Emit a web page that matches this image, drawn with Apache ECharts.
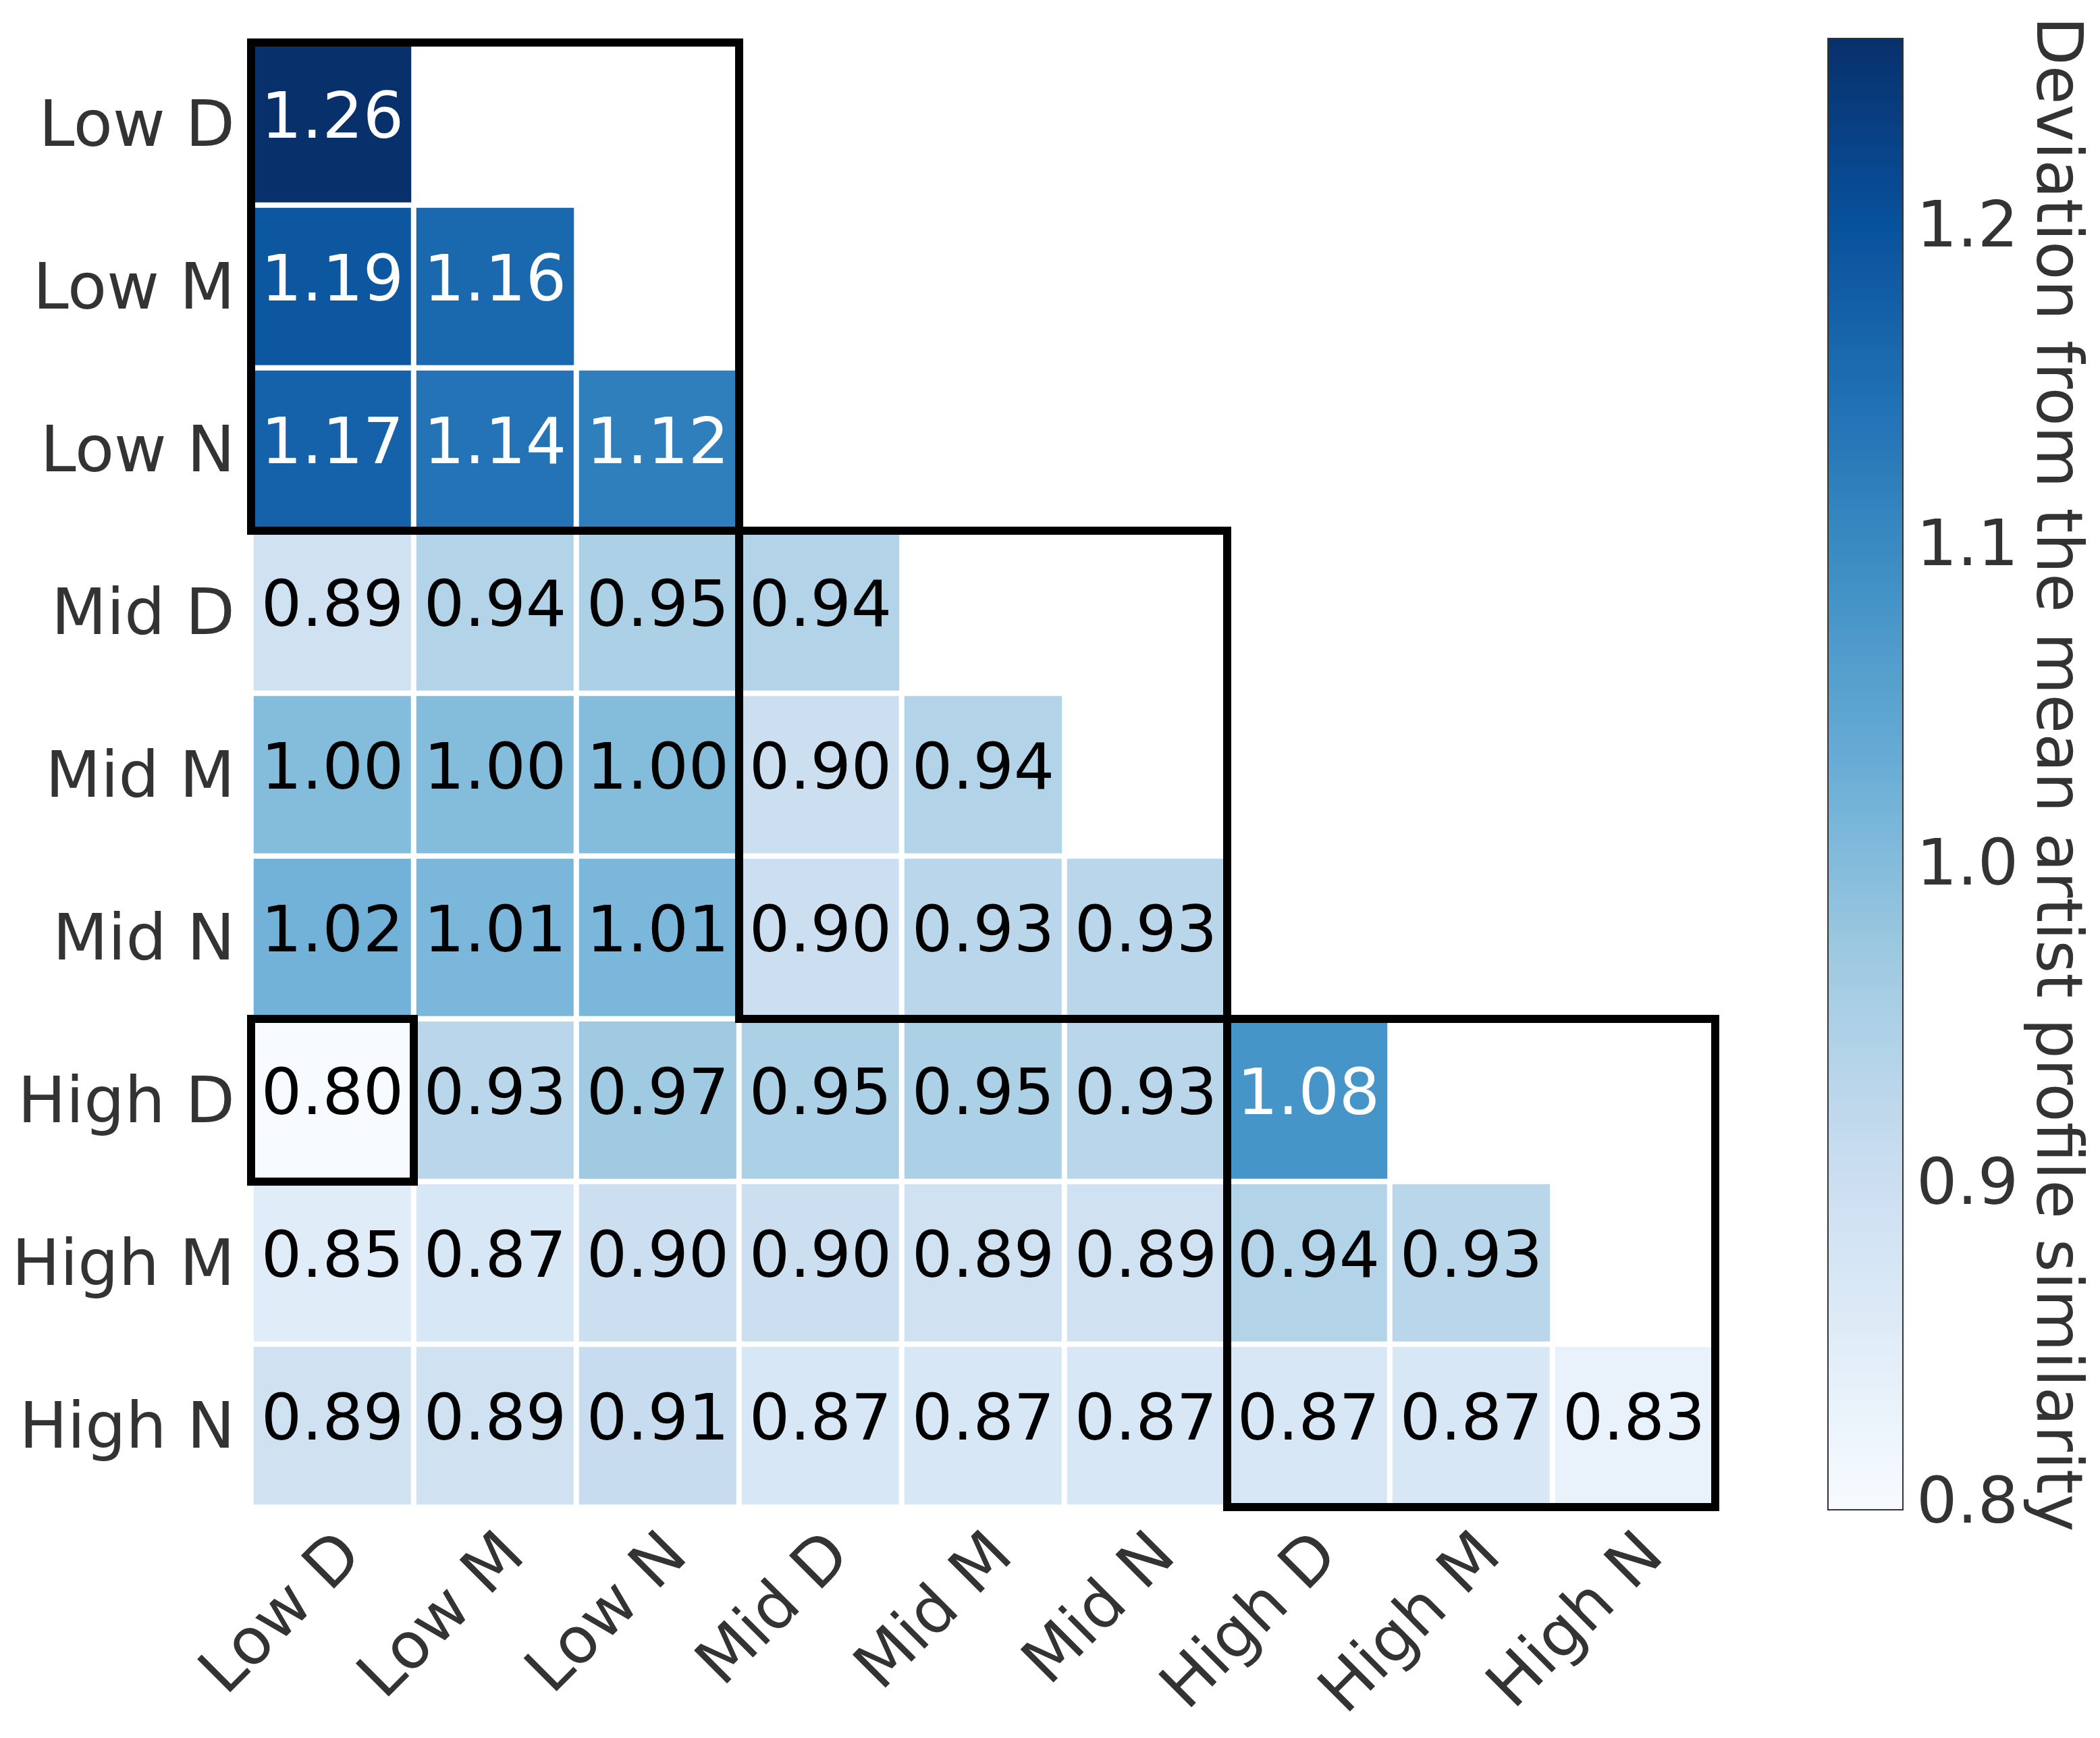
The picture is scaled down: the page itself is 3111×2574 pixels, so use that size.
<!DOCTYPE html>
<html><head><meta charset="utf-8">
<script src="https://cdn.jsdelivr.net/npm/echarts@6/dist/echarts.min.js"></script>
<style>html,body{margin:0;padding:0;background:#fff}#c{width:3111px;height:2574px}</style>
</head><body><div id="c"></div>
<script>
// Categories (rows top->bottom, columns left->right)
const categories = ['Low D','Low M','Low N','Mid D','Mid M','Mid N','High D','High M','High N'];
// Lower-triangular values, one array per row
const rowLowD  = [1.259];
const rowLowM  = [1.19, 1.16];
const rowLowN  = [1.17, 1.14, 1.12];
const rowMidD  = [0.89, 0.94, 0.95, 0.94];
const rowMidM  = [1.00, 1.00, 1.00, 0.90, 0.94];
const rowMidN  = [1.02, 1.01, 1.01, 0.90, 0.93, 0.93];
const rowHighD = [0.798, 0.93, 0.97, 0.95, 0.95, 0.93, 1.08];
const rowHighM = [0.85, 0.87, 0.90, 0.90, 0.89, 0.89, 0.94, 0.93];
const rowHighN = [0.89, 0.89, 0.91, 0.87, 0.87, 0.87, 0.87, 0.87, 0.83];
const rows = [rowLowD,rowLowM,rowLowN,rowMidD,rowMidM,rowMidN,rowHighD,rowHighM,rowHighN];
// Highlighted blocks: [colStart,rowStart,colEnd,rowEnd]
const blocks = [[0,0,2,2],[3,3,5,5],[6,6,8,8],[0,6,0,6]];
// Colorbar ticks
const colorbarTicks = [0.8, 0.9, 1.0, 1.1, 1.2];
const colorbarTitle = 'Deviation from the mean artist profile similarity';
const blues = ['#f7fbff','#deebf7','#c6dbef','#9ecae1','#6baed6','#4292c6','#2171b5','#08519c','#08306b'];

const allVals = rows.flat();
const vmin = Math.min(...allVals), vmax = Math.max(...allVals);

const heatData = [];
rows.forEach((r, ri) => r.forEach((v, ci) => {
  heatData.push({ value: [ci, ri, v], label: { color: v > 1.05 ? '#ffffff' : '#000000' } });
}));

const FONT = 'DejaVu Sans';
const TXT = '#333333';
const chart = echarts.init(document.getElementById('c'), null, { renderer: 'canvas' });
chart.setOption({
  backgroundColor: '#ffffff',
  animation: false,
  textStyle: { fontFamily: FONT },
  grid: [
    { left: 372, top: 63, width: 2169, height: 2169 },
    { left: 2708, top: 57, width: 111, height: 2179 },
    { left: 402, top: 71, width: 2169, height: 2169 }
  ],
  xAxis: [
    { type: 'category', data: categories, gridIndex: 0, position: 'bottom',
      axisLine: { show: false }, axisTick: { show: false }, splitLine: { show: false },
      axisLabel: { show: false } },
    { type: 'value', gridIndex: 1, min: 0, max: 1, show: false },
    { type: 'category', data: categories, gridIndex: 2, position: 'bottom',
      axisLine: { show: false }, axisTick: { show: false }, splitLine: { show: false },
      axisLabel: { interval: 0, rotate: 45, fontSize: 95, color: TXT, margin: 50, fontFamily: FONT } }
  ],
  yAxis: [
    { type: 'category', data: categories, gridIndex: 0, inverse: true,
      axisLine: { show: false }, axisTick: { show: false }, splitLine: { show: false },
      axisLabel: { show: false } },
    { type: 'value', gridIndex: 1, min: vmin, max: vmax, position: 'right',
      axisLine: { show: false }, splitLine: { show: false },
      axisTick: { show: true, length: 9, lineStyle: { color: TXT, width: 2 }, customValues: colorbarTicks },
      axisLabel: { customValues: colorbarTicks, formatter: v => '{t|' + Number(v).toFixed(1) + '}', margin: 20,
        rich: { t: { fontSize: 95, color: TXT, fontFamily: FONT, padding: [8, 0, 0, 0] } } },
      name: colorbarTitle, nameLocation: 'middle', nameRotate: -90, nameGap: 176,
      nameTextStyle: { fontSize: 94, color: TXT, fontFamily: FONT } },
    { type: 'category', data: categories, gridIndex: 2, inverse: true,
      axisLine: { show: false }, axisTick: { show: false }, splitLine: { show: false },
      axisLabel: { interval: 0, fontSize: 95, color: TXT, margin: 54, fontFamily: FONT } }
  ],
  visualMap: {
    type: 'continuous', show: false, min: vmin, max: vmax, dimension: 2, seriesIndex: 0,
    inRange: { color: blues }
  },
  series: [
    { type: 'heatmap', xAxisIndex: 0, yAxisIndex: 0, data: heatData,
      itemStyle: { borderColor: '#ffffff', borderWidth: 8 },
      label: { show: true, fontSize: 95, fontFamily: FONT, offset: [0, -4], formatter: p => p.value[2].toFixed(2) },
      emphasis: { disabled: true }, silent: true },
    { type: 'custom', xAxisIndex: 0, yAxisIndex: 0, data: blocks, clip: false, silent: true, z: 10,
      encode: { x: [0, 2], y: [1, 3] },
      renderItem: (params, api) => {
        const a = api.coord([api.value(0), api.value(1)]);
        const b = api.coord([api.value(2), api.value(3)]);
        const s = api.size([1, 1]);
        const x0 = Math.min(a[0], b[0]) - s[0] / 2, x1 = Math.max(a[0], b[0]) + s[0] / 2;
        const y0 = Math.min(a[1], b[1]) - s[1] / 2, y1 = Math.max(a[1], b[1]) + s[1] / 2;
        return { type: 'rect', shape: { x: x0, y: y0, width: x1 - x0, height: y1 - y0 },
          style: { fill: 'none', stroke: '#000000', lineWidth: 12 } };
      } },
    { type: 'custom', xAxisIndex: 1, yAxisIndex: 1, data: [[0, vmin, 1, vmax]], clip: false, silent: true,
      encode: { x: [0, 2], y: [1, 3] },
      renderItem: (params, api) => {
        const a = api.coord([api.value(0), api.value(1)]);
        const b = api.coord([api.value(2), api.value(3)]);
        const x0 = Math.min(a[0], b[0]), y0 = Math.min(a[1], b[1]);
        return { type: 'rect', shape: { x: x0, y: y0, width: Math.abs(b[0] - a[0]), height: Math.abs(b[1] - a[1]) },
          style: { fill: new echarts.graphic.LinearGradient(0, 1, 0, 0,
              blues.map((c, i) => ({ offset: i / (blues.length - 1), color: c }))),
            stroke: '#333333', lineWidth: 2 } };
      } }
  ]
});
</script></body></html>
